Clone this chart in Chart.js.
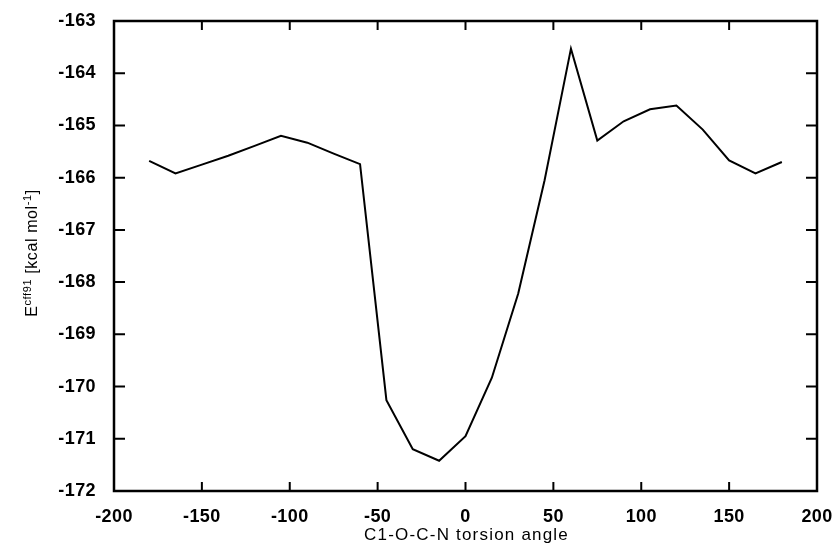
<!DOCTYPE html>
<html>
<head>
<meta charset="utf-8">
<script src="https://cdn.jsdelivr.net/npm/chart.js@4/dist/chart.umd.min.js"></script>
<style>
  html, body { margin: 0; padding: 0; background: #fff; }
  #wrap { width: 834px; height: 544px; }
</style>
</head>
<body>
<div id="wrap"><canvas id="c" width="834" height="544"></canvas></div>
<script>
// ---- data ----
const torsionAngles = [-180, -165, -150, -135, -120, -105, -90, -75, -60, -45, -30, -15, 0,
                       15, 30, 45, 60, 75, 90, 105, 120, 135, 150, 165, 180];
const energies = [-165.68, -165.92, -165.75, -165.58, -165.39, -165.20, -165.33, -165.54, -165.74,
                  -170.26, -171.20, -171.42, -170.95, -169.83, -168.22, -166.05, -163.53,
                  -165.29, -164.92, -164.69, -164.62, -165.08, -165.67, -165.92, -165.70];
const xTickValues = [-200, -150, -100, -50, 0, 50, 100, 150, 200];
const yTickValues = [-172, -171, -170, -169, -168, -167, -166, -165, -164, -163];
const xTitle = 'C1-O-C-N torsion angle';
const yTitleParts = [['E', false], ['cff91', true], [' [kcal mol', false], ['-1', true], [']', false]];

const points = torsionAngles.map((a, i) => ({ x: a, y: energies[i] }));

const TICK_FONT = { family: "'Liberation Sans', Arial, sans-serif", size: 18, weight: 'bold' };

const spacingPlugin = {
  id: 'spacing',
  beforeLayout(chart) { chart.ctx.letterSpacing = '0.4px'; },
  beforeDraw(chart) { chart.ctx.letterSpacing = '0.4px'; }
};

const framePlugin = {
  id: 'frame',
  afterDatasetsDraw(chart) {
    const { ctx, chartArea: a, scales: { x, y } } = chart;
    ctx.save();
    ctx.strokeStyle = '#000';
    ctx.lineWidth = 2;
    ctx.lineCap = 'butt';
    ctx.beginPath();
    const xl = 9, yl = 11;
    x.ticks.forEach(t => {
      const px = x.getPixelForValue(t.value);
      ctx.moveTo(px, a.bottom); ctx.lineTo(px, a.bottom - xl);
      ctx.moveTo(px, a.top); ctx.lineTo(px, a.top + xl);
    });
    y.ticks.forEach(t => {
      const py = y.getPixelForValue(t.value);
      ctx.moveTo(a.left, py); ctx.lineTo(a.left + yl, py);
      ctx.moveTo(a.right, py); ctx.lineTo(a.right - yl, py);
    });
    ctx.stroke();
    ctx.lineWidth = 2.5;
    ctx.strokeRect(a.left, a.top, a.right - a.left, a.bottom - a.top);
    ctx.restore();
  },
  afterDraw(chart) {
    const { ctx, chartArea: a, scales: { x } } = chart;
    ctx.save();
    ctx.fillStyle = '#000';
    // x-axis title
    ctx.letterSpacing = '1.2px';
    ctx.font = "17px 'Liberation Sans', Arial, sans-serif";
    ctx.textAlign = 'center';
    ctx.textBaseline = 'alphabetic';
    ctx.fillText(xTitle, x.getPixelForValue(0) + 1, 540);
    // y-axis title with superscripts
    ctx.letterSpacing = '0.6px';
    ctx.textAlign = 'left';
    const big = "16px 'Liberation Sans', Arial, sans-serif";
    const small = "11px 'Liberation Sans', Arial, sans-serif";
    let total = 0;
    yTitleParts.forEach(([s, sup]) => { ctx.font = sup ? small : big; total += ctx.measureText(s).width; });
    ctx.translate(37, 253);
    ctx.rotate(-Math.PI / 2);
    let cx = -total / 2;
    yTitleParts.forEach(([s, sup]) => {
      ctx.font = sup ? small : big;
      ctx.fillText(s, cx, sup ? -6 : 0);
      cx += ctx.measureText(s).width;
    });
    ctx.restore();
  }
};

new Chart(document.getElementById('c'), {
  type: 'line',
  data: {
    datasets: [{
      data: points,
      borderColor: '#000',
      borderWidth: 2,
      pointRadius: 0,
      tension: 0,
      fill: false
    }]
  },
  options: {
    responsive: false,
    animation: false,
    devicePixelRatio: 1,
    layout: { padding: { top: 21, right: 17, left: 0, bottom: 0 } },
    plugins: { legend: { display: false }, tooltip: { enabled: false } },
    scales: {
      x: {
        type: 'linear',
        min: -200, max: 200,
        afterBuildTicks(s) { s.ticks = xTickValues.map(v => ({ value: v })); },
        afterFit(s) { s.height = 53; s.paddingLeft = 0; s.paddingRight = 0; },
        grid: { display: false },
        border: { display: false },
        ticks: { color: '#000', font: TICK_FONT, padding: 7, maxRotation: 0, autoSkip: false,
                 callback: v => String(v) },
        title: { display: false }
      },
      y: {
        type: 'linear',
        min: -172, max: -163,
        afterBuildTicks(s) { s.ticks = yTickValues.map(v => ({ value: v })); },
        afterFit(s) { s.width = 114; s.paddingTop = 0; s.paddingBottom = 0; },
        grid: { display: false },
        border: { display: false },
        ticks: { color: '#000', font: TICK_FONT, padding: 10, autoSkip: false,
                 callback: v => String(v) }
      }
    }
  },
  plugins: [spacingPlugin, framePlugin]
});
</script>
</body>
</html>
